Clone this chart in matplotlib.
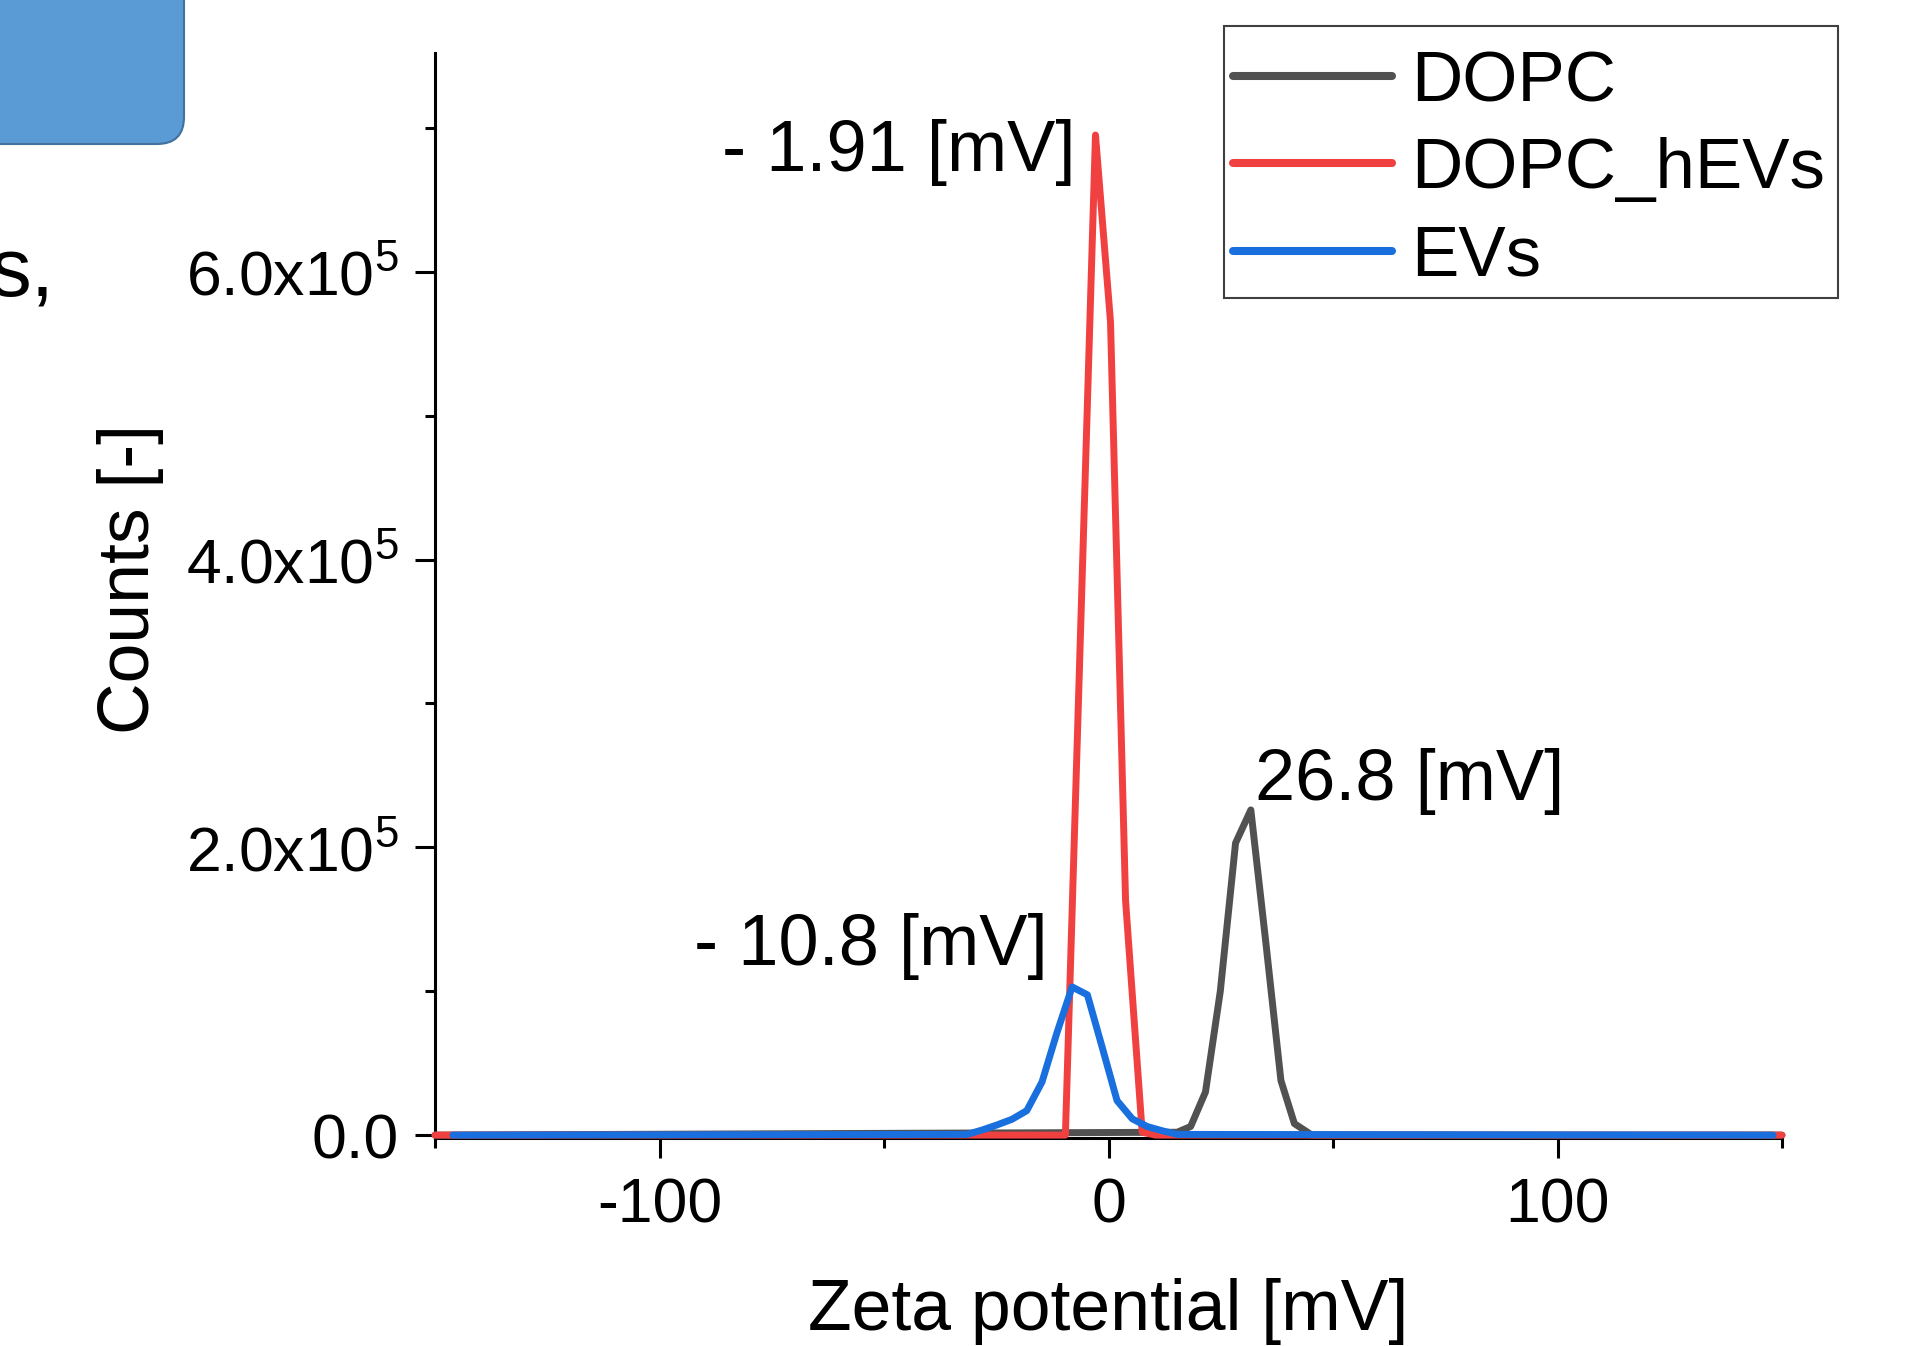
import matplotlib
matplotlib.use("Agg")
import matplotlib.pyplot as plt
from matplotlib.ticker import MultipleLocator, FuncFormatter
from matplotlib.patches import FancyBboxPatch, Rectangle
from matplotlib.transforms import IdentityTransform

plt.rcParams['font.family'] = ['Liberation Sans', 'DejaVu Sans']
plt.rcParams['mathtext.fontset'] = 'custom'
plt.rcParams['mathtext.rm'] = 'Liberation Sans'
plt.rcParams['mathtext.it'] = 'Liberation Sans:italic'
plt.rcParams['mathtext.bf'] = 'Liberation Sans:bold'
plt.rcParams['mathtext.default'] = 'regular'

# ---- data ----
series_names = ["DOPC", "DOPC_hEVs", "EVs"]
series_colors = ["#515151", "#F14040", "#1A6FDF"]

dopc_x = [-150, 15.3, 18.3, 21.6, 24.9, 28.3, 31.7, 35.0, 38.4, 41.4, 45.3, 150]
dopc_y = [0, 2.0e3, 6.0e3, 3.0e4, 1.0e5, 2.03e5, 2.26e5, 1.35e5, 3.8e4, 8.0e3, 0, 0]

hevs_x = [-150, -9.6, -2.9, 0.45, 3.8, 7.5, 10.5, 150]
hevs_y = [0, 0, 6.95e5, 5.65e5, 1.63e5, 2.0e3, 0, 0]

evs_x = [-146, -31.5, -28.2, -24.9, -21.5, -18.2, -14.8, -11.5, -8.1, -4.7,
         -1.4, 1.9, 5.3, 8.6, 12.0, 15.3, 148]
evs_y = [0, 500, 3.5e3, 7.0e3, 1.1e4, 1.7e4, 3.7e4, 7.1e4, 1.03e5, 9.75e4,
         6.1e4, 2.4e4, 1.13e4, 6.0e3, 3.0e3, 500, 0]

peak_labels = ["- 1.91 [mV]", "- 10.8 [mV]", "26.8 [mV]"]

xlabel = "Zeta potential [mV]"
ylabel = "Counts [-]"

# ---- figure ----
W, H = 1914, 1346
fig = plt.figure(figsize=(W / 100, H / 100), dpi=100)
ax = fig.add_axes([435 / W, (H - 1138) / H, (1782 - 435) / W, (1138 - 53) / H])

for xs, ys, name, col in zip([dopc_x, hevs_x, evs_x], [dopc_y, hevs_y, evs_y],
                             series_names, series_colors):
    ax.plot(xs, ys, color=col, lw=5.0, label=name, clip_on=False, zorder=3,
            solid_capstyle='round', solid_joinstyle='round')

ax.set_xlim(-150, 150)
ax.set_ylim(-2000, 7.52e5)

for s in ['top', 'right']:
    ax.spines[s].set_visible(False)
for s in ['left', 'bottom']:
    ax.spines[s].set_linewidth(2.2)

ax.xaxis.set_major_locator(MultipleLocator(100))
ax.xaxis.set_minor_locator(MultipleLocator(50))
ax.yaxis.set_major_locator(MultipleLocator(2e5))
ax.yaxis.set_minor_locator(MultipleLocator(1e5))


def yfmt(v, pos):
    if abs(v) < 1:
        return "0.0"
    return "%.1fx10$^{5}$" % (v / 1e5)


ax.yaxis.set_major_formatter(FuncFormatter(yfmt))
ax.xaxis.set_major_formatter(FuncFormatter(lambda v, p: "%d" % round(v)))

ax.tick_params(which='major', direction='out', length=14.4, width=2.2, labelsize=45)
ax.tick_params(which='minor', direction='out', length=7, width=2.2)
ax.tick_params(axis='x', which='major', pad=13)
ax.tick_params(axis='y', which='major', pad=12)

fig.text(1108 / W, 1 - 1330 / H, xlabel, fontsize=51.5, ha='center', va='baseline')
fig.text(131 / W, 1 - 579 / H, ylabel, fontsize=51.5, ha='center', va='center',
         rotation=90)

# peak annotations
ax.text(-7.4, 6.70e5, peak_labels[0], fontsize=52, ha='right', va='baseline')
ax.text(-13.6, 1.18e5, peak_labels[1], fontsize=52, ha='right', va='baseline')
ax.text(32.7, 2.33e5, peak_labels[2], fontsize=52, ha='left', va='baseline')

# legend (entries without frame; frame drawn as a separate rectangle)
leg = ax.legend(loc='upper left', bbox_to_anchor=(1233 / W, 1 - 50 / H),
                bbox_transform=fig.transFigure, borderaxespad=0, fontsize=51,
                handlelength=2.25, handletextpad=0.27, labelspacing=0.3,
                borderpad=0, frameon=False)
for lh in leg.get_lines():
    lh.set_linewidth(5.8)
fig.patches.append(Rectangle((1224 / W, 1 - 298 / H), (1838 - 1224) / W,
                             (298 - 26) / H, transform=fig.transFigure,
                             facecolor='none', edgecolor='#404040',
                             linewidth=1.5, figure=fig))

# decorative slide elements (partial)
box = FancyBboxPatch((-100, H - 144), 284, 300,
                     boxstyle="round,pad=0,rounding_size=27",
                     transform=IdentityTransform(), facecolor='#5B9BD5',
                     edgecolor='#41719C', linewidth=1.5, figure=fig)
fig.patches.append(box)
fig.text(55 / W, 1 - 295 / H, "s,", fontsize=60, ha='right', va='baseline')

fig.savefig("out.png", dpi=100)
